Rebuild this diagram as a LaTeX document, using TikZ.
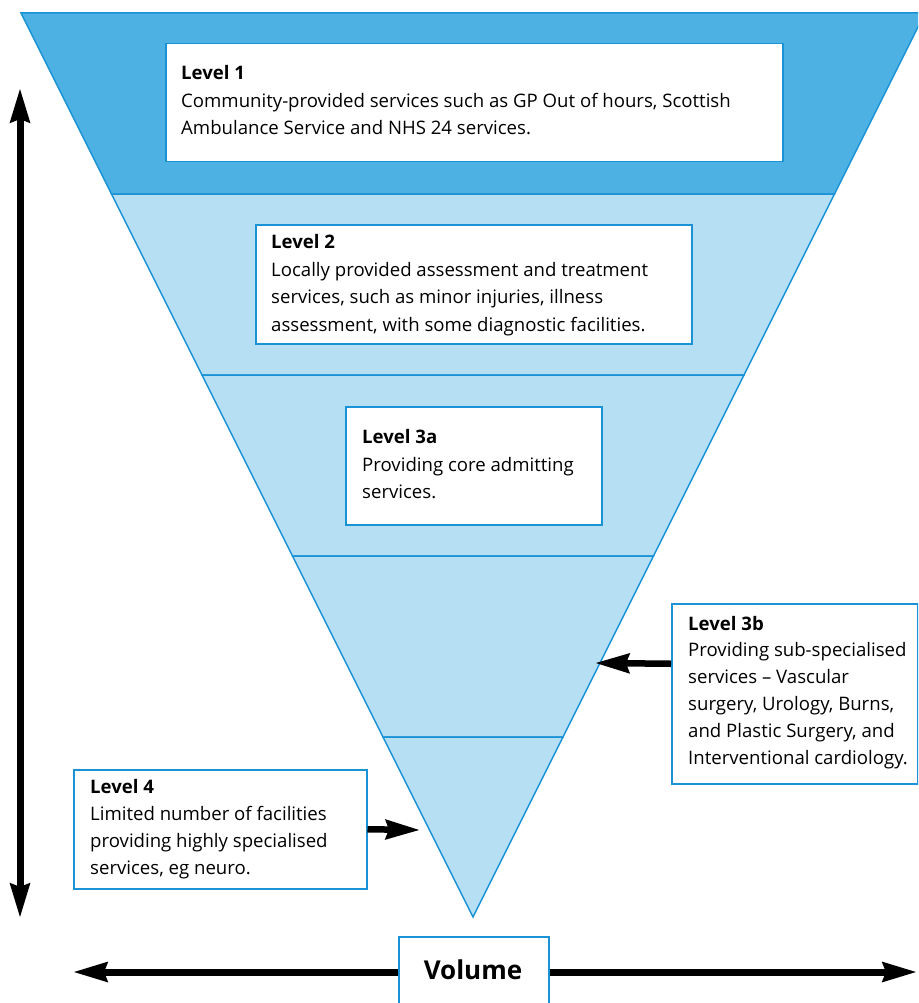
\documentclass[tikz,border=0pt]{standalone}
\usepackage{fontspec}
\setmainfont{Open Sans}
\usetikzlibrary{arrows.meta}
\definecolor{edgeblue}{RGB}{26,146,214}
\definecolor{darkband}{RGB}{78,177,228}
\definecolor{lightband}{RGB}{182,223,243}
\tikzset{
  band/.style={draw=edgeblue, line width=1.5pt, line join=miter},
  levelbox/.style={draw=edgeblue, fill=white, line width=1.5pt, rectangle, inner sep=0pt, anchor=north west},
  leveltext/.style={anchor=base west, align=left, inner sep=0pt, font=\fontsize{18.6}{27.4}\selectfont},
  bigarrow/.style={line width=7pt, -{Stealth[length=34pt, width=19pt, inset=3pt]}},
  bothways/.style={line width=7pt, {Stealth[length=34pt, width=19pt, inset=3pt]}-{Stealth[length=34pt, width=19pt, inset=3pt]}},
}
\begin{document}
\begin{tikzpicture}[x=1pt, y=-1pt]
\useasboundingbox (0,0) rectangle (918,1003);
\clip (0,0) rectangle (918,1003);

% inverted triangle, cut into five bands
\path[band, fill=darkband] (21,13) -- (925,13) -- (834.5,194) -- (111.5,194) -- cycle;
\path[band, fill=lightband] (111.5,194) -- (834.5,194) -- (744,375) -- (202,375) -- cycle;
\path[band, fill=lightband] (202,375) -- (744,375) -- (653.5,556) -- (292.5,556) -- cycle;
\path[band, fill=lightband] (292.5,556) -- (653.5,556) -- (563,737) -- (383,737) -- cycle;
\path[band, fill=lightband] (383,737) -- (563,737) -- (473,917) -- cycle;

% level boxes (text anchored at the baseline of its last line)
\node[levelbox, minimum width=617pt, minimum height=118pt] (box1) at (165,43) {};
\node[leveltext] (txt1) at (181,134.5) {\textbf{Level 1}\\Community-provided services such as GP Out of hours, Scottish\\Ambulance Service and NHS 24 services.};

\node[levelbox, minimum width=436pt, minimum height=119pt] (box2) at (255,224) {};
\node[leveltext] (txt2) at (271,331) {\textbf{Level 2}\\Locally provided assessment and treatment\\services, such as minor injuries, illness\\assessment, with some diagnostic facilities.};

\node[levelbox, minimum width=256pt, minimum height=118pt] (box3a) at (345,406) {};
\node[leveltext] (txt3a) at (362,498.5) {\textbf{Level 3a}\\Providing core admitting\\services.};

\node[levelbox, minimum width=246pt, minimum height=180pt] (box3b) at (671,603) {};
\node[leveltext, font=\fontsize{18.6}{26.8}\selectfont] (txt3b) at (688,764) {\textbf{Level 3b}\\Providing sub-specialised\\services – Vascular\\surgery, Urology, Burns,\\and Plastic Surgery, and\\Interventional cardiology.};

\node[levelbox, minimum width=293pt, minimum height=119pt] (box4) at (73,769) {};
\node[leveltext, font=\fontsize{18.6}{26.7}\selectfont] (txt4) at (90,874) {\textbf{Level 4}\\Limited number of facilities\\providing highly specialised\\services, eg neuro.};

% pointers from the side boxes into the triangle
\coordinate (tip3b) at (595,663);
\coordinate (tip4) at (420,830);
\draw[bigarrow, line width=6.5pt] ([yshift=30pt]box3b.west) -- (tip3b);
\draw[bigarrow, line width=6.5pt] (box4.east) -- (tip4);

% axes
\coordinate (vtop) at (20,88);
\coordinate (vbot) at (20,918);
\draw[bothways] (vtop) -- (vbot);
\coordinate (hleft) at (73,972);
\coordinate (hright) at (917,972);
\draw[bothways] (hleft) -- (hright);

\node[levelbox, minimum width=150pt, minimum height=80pt] (volbox) at (398,936) {};
\node[anchor=base, inner sep=0pt, font=\fontsize{26}{30}\selectfont\bfseries] (vol) at (473,979) {Volume};
\end{tikzpicture}
\end{document}
